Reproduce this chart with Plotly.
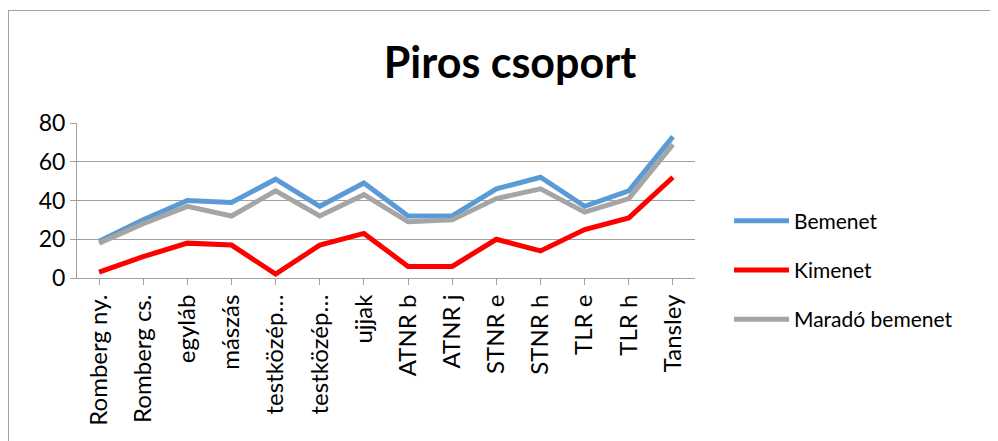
import plotly.graph_objects as go

categories = ["Romberg ny.", "Romberg cs.", "egyláb", "mászás", "testközép…", "testközép…",
              "ujjak", "ATNR b", "ATNR j", "STNR e", "STNR h", "TLR e", "TLR h", "Tansley"]
bemenet = [19, 30, 40, 39, 51, 37, 49, 32, 32, 46, 52, 37, 45, 73]
kimenet = [3, 11, 18, 17, 2, 17, 23, 6, 6, 20, 14, 25, 31, 52]
marado = [18, 28, 37, 32, 45, 32, 43, 29, 30, 41, 46, 34, 41, 69]
series_names = ["Bemenet", "Kimenet", "Maradó bemenet"]
series_colors = ["#5B9BD5", "#FF0000", "#A5A5A5"]
y_ticks = [0, 20, 40, 60, 80]

x = list(range(len(categories)))
FONT = "Lato, Open Sans, sans-serif"

fig = go.Figure()
for name, vals, col in zip(series_names, [bemenet, kimenet, marado], series_colors):
    fig.add_trace(go.Scatter(x=x, y=vals, mode="lines", name=name, legendgroup=name,
                             line=dict(color=col, width=5)))

# page has an 8px body margin: positions below are in figure coordinates
OFF = 8
W, H = 998 - OFF, 441 - OFF
L, T = 77 - OFF, 123 - OFF
pw, ph = 618, 155
R, B = W - L - pw, H - T - ph

def px(xp):  # screen x -> paper x
    return (xp - OFF - L) / pw

def py(yp):  # screen y -> paper y
    return (T + ph - (yp - OFF)) / ph

fig.update_layout(
    width=W, height=H,
    margin=dict(l=L, r=R, t=T, b=B, autoexpand=False),
    paper_bgcolor="white", plot_bgcolor="white",
    font=dict(family=FONT, size=22, color="black"),
    title=dict(text="<b>Piros csoport</b>", x=(510 - OFF) / W, xanchor="center",
               y=1 - (63 - OFF) / H, yanchor="middle", font=dict(size=43, family=FONT)),
    showlegend=True,
    legend=dict(x=px(729), xanchor="left", y=py(270), yanchor="middle",
                font=dict(size=21, family=FONT), tracegroupgap=19, itemwidth=55,
                traceorder="grouped", bgcolor="rgba(0,0,0,0)"),
    xaxis=dict(tickmode="array", tickvals=x, ticktext=categories, range=[-0.5, len(categories) - 0.5],
               tickangle=-90, showgrid=False, showline=True, linecolor="#A0A0A0", linewidth=1,
               ticks="outside", ticklen=6, tickcolor="#A0A0A0", tickson="boundaries",
               zeroline=False, fixedrange=True, tickfont=dict(size=24)),
    yaxis=dict(range=[0, 80], tickvals=y_ticks, showgrid=True, gridcolor="#A0A0A0", gridwidth=1,
               showline=True, linecolor="#A0A0A0", linewidth=1, ticks="outside", ticklen=6,
               tickcolor="#A0A0A0", zeroline=False, fixedrange=True, tickfont=dict(size=23)),
    shapes=[
        dict(type="line", xref="paper", yref="paper", x0=px(8), x1=px(1000), y0=py(10.5), y1=py(10.5),
             line=dict(color="#A0A0A0", width=1)),
        dict(type="line", xref="paper", yref="paper", x0=px(8.5), x1=px(8.5), y0=py(10.5), y1=py(445),
             line=dict(color="#A0A0A0", width=1)),
    ],
)

fig.write_html("out.html")
